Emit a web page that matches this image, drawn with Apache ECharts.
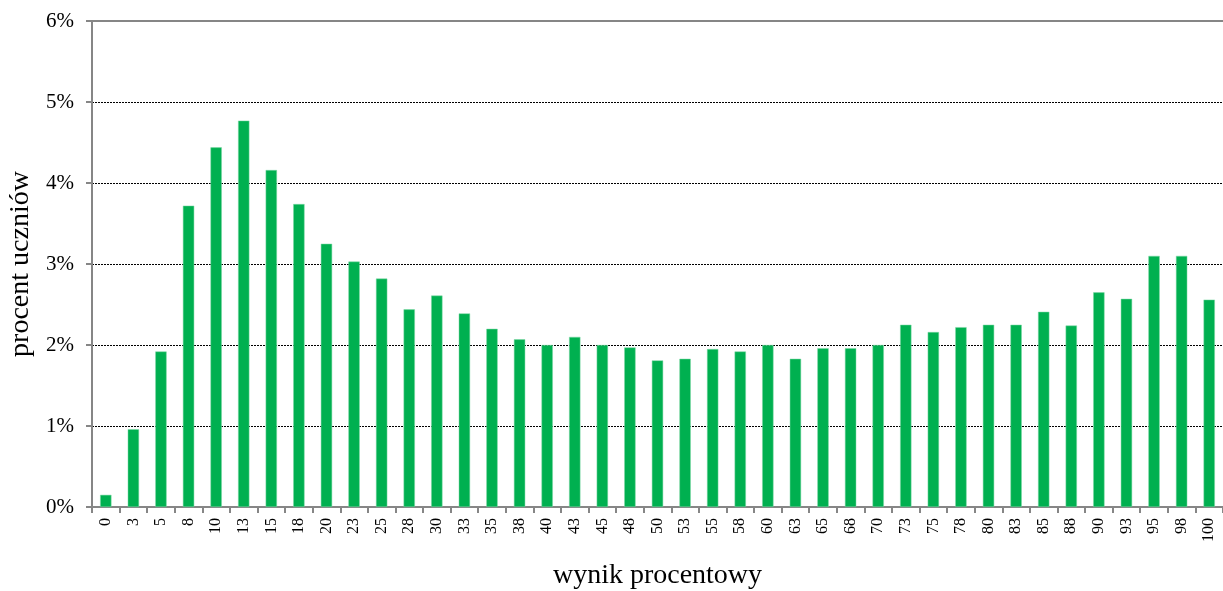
<!DOCTYPE html>
<html>
<head>
<meta charset="utf-8">
<script src="https://cdn.jsdelivr.net/npm/echarts@6/dist/echarts.min.js"></script>
<style>
  html, body { margin: 0; padding: 0; background: #fff; overflow: hidden; }
  #chart { width: 1223px; height: 591px; }
</style>
</head>
<body>
<div id="chart"></div>
<script>
var categories = ['0', '3', '5', '8', '10', '13', '15', '18', '20', '23', '25', '28', '30', '33', '35', '38', '40', '43', '45', '48',
  '50', '53', '55', '58', '60', '63', '65', '68', '70', '73', '75', '78', '80', '83', '85', '88', '90', '93', '95', '98', '100']
// procent uczniów
var values = [0.15, 0.96, 1.92, 3.72, 4.44, 4.77, 4.16, 3.74, 3.25, 3.03, 2.82, 2.44, 2.61, 2.39, 2.20, 2.07, 2.00, 2.10, 2.00, 1.97,
  1.81, 1.83, 1.95, 1.92, 2.00, 1.83, 1.96, 1.96, 2.00, 2.25, 2.16, 2.22, 2.25, 2.25, 2.41, 2.24, 2.65, 2.57, 3.10, 3.10, 2.56]

var serif = '"Liberation Serif", "DejaVu Serif", serif'
var myChart = echarts.init(document.getElementById('chart'))

var option = {
  animation: false,
  grid: { left: 92, right: 0, top: 21, height: 486, containLabel: false, outerBoundsMode: 'none' },
  xAxis: [{
    type: 'category',
    data: categories,
    name: 'wynik procentowy',
    nameLocation: 'middle',
    nameGap: 55,
    nameTextStyle: { fontFamily: serif, fontSize: 28, color: '#000' },
    axisLine: { lineStyle: { color: '#868686', width: 2 } },
    axisTick: { show: true, length: 6, lineStyle: { color: '#868686', width: 2 } },
    axisLabel: { rotate: 90, interval: 0, fontFamily: serif, fontSize: 16, color: '#000', margin: 11 }
  }, {
    type: 'category',
    position: 'top',
    data: categories,
    axisLine: { lineStyle: { color: '#868686', width: 2 } },
    axisTick: { show: false },
    axisLabel: { show: false }
  }],
  yAxis: [{
    type: 'value',
    min: 0,
    max: 6,
    interval: 1,
    name: 'procent uczniów',
    nameLocation: 'middle',
    nameGap: 53,
    nameTextStyle: { fontFamily: serif, fontSize: 28, color: '#000' },
    axisLine: { show: true, lineStyle: { color: '#868686', width: 2 } },
    axisTick: { show: true, length: 6, lineStyle: { color: '#868686', width: 2 } },
    axisLabel: { formatter: '{value}%', fontFamily: serif, fontSize: 21, color: '#000', margin: 18 },
    splitLine: { show: true, lineStyle: { color: '#000', width: 1, type: [2, 1] } }
  }],
  series: [{
    type: 'bar',
    data: values,
    barWidth: '41%',
    itemStyle: { color: '#00B050', borderColor: '#7FD8A6', borderWidth: 0.5 }
  }]
}

myChart.setOption(option)
</script>
</body>
</html>
